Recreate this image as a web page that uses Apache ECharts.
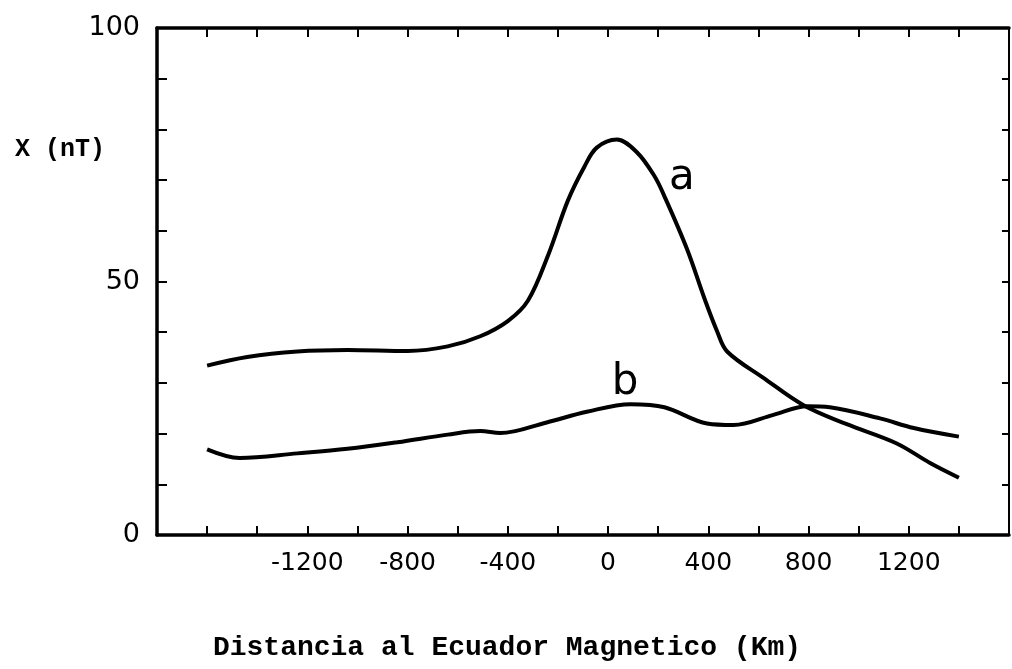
<!DOCTYPE html>
<html>
<head>
<meta charset="utf-8">
<script src="https://cdn.jsdelivr.net/npm/echarts@6/dist/echarts.min.js"></script>
<style>
html,body{margin:0;padding:0;background:#fff;}
#chart{width:1012px;height:669px;}
</style>
</head>
<body>
<div id="chart"></div>
<script>
// Curve a
var xA = [-1600,-1440,-1240,-1040,-800,-640,-510,-400,-320,-240,-160,-95,-45,35,115,185,225,315,385,435,475,620,780,950,1150,1285,1400];
var yA = [33.4,35.1,36.2,36.5,36.3,37.2,39.2,42.2,46.2,55.1,66.0,72.6,76.4,78.0,75.5,70.8,66.8,56.4,46.6,40.2,36.2,31.0,25.6,21.9,18.1,14.2,11.3];
// Curve b
var xB = [-1600,-1470,-1240,-1040,-840,-640,-510,-430,-245,-85,90,225,395,500,660,795,885,1085,1220,1400];
var yB = [16.9,15.2,16.1,17.0,18.3,19.8,20.5,20.1,22.2,24.3,25.8,25.2,22.0,21.7,23.7,25.4,25.2,23.0,21.1,19.4];
// Curve labels
var curveNames = ['a','b'];
var curveLabelX = [295, 68];
var curveLabelY = [70.3, 30.0];
// Tick labels
var xTickLabels = [-1200,-800,-400,0,400,800,1200];
var yTickLabels = [0,50,100];
var xTitle = 'Distancia al Ecuador Magnetico (Km)';
var yTitle = 'X (nT)';

function zip(xs, ys){ return xs.map(function(x,i){ return [x, ys[i]]; }); }

var chart = echarts.init(document.getElementById('chart'));
var axisLineStyle = {color:'#000', width:3.5};
var tickStyle = {color:'#000', width:2};

var option = {
  animation: false,
  backgroundColor: '#fff',
  grid: {left:157, right:1, top:28, bottom:134},
  xAxis: [{
    type:'value', min:-1800, max:1600, interval:200, position:'bottom',
    axisLine:{show:true, onZero:false, lineStyle:axisLineStyle},
    axisTick:{show:true, inside:true, length:9, lineStyle:tickStyle},
    axisLabel:{
      margin:16, fontSize:25, color:'#000', fontFamily:'DejaVu Sans',
      formatter:function(v){ return xTickLabels.indexOf(v) >= 0 ? String(v) : ''; }
    },
    splitLine:{show:false}
  },{
    type:'value', min:-1800, max:1600, interval:200, position:'top',
    axisLine:{show:true, onZero:false, lineStyle:axisLineStyle},
    axisTick:{show:true, inside:true, length:9, lineStyle:tickStyle},
    axisLabel:{show:false},
    splitLine:{show:false}
  }],
  yAxis: [{
    type:'value', min:0, max:100, interval:10, position:'left',
    axisLine:{show:true, onZero:false, lineStyle:axisLineStyle},
    axisTick:{show:true, inside:true, length:10, lineStyle:tickStyle},
    axisLabel:{
      margin:17, fontSize:27, color:'#000', fontFamily:'DejaVu Sans',
      formatter:function(v){ return yTickLabels.indexOf(v) >= 0 ? String(v) : ''; }
    },
    splitLine:{show:false}
  },{
    type:'value', min:0, max:100, interval:10, position:'right',
    axisLine:{show:true, onZero:false, lineStyle:{color:'#000', width:2}},
    axisTick:{show:true, inside:true, length:7, lineStyle:tickStyle},
    axisLabel:{show:false},
    splitLine:{show:false}
  }],
  series: [{
    name:'a', type:'line', xAxisIndex:0, yAxisIndex:0,
    data: zip(xA, yA), smooth:0.35, symbol:'none',
    lineStyle:{color:'#000', width:4}
  },{
    name:'b', type:'line', xAxisIndex:0, yAxisIndex:0,
    data: zip(xB, yB), smooth:0.35, symbol:'none',
    lineStyle:{color:'#000', width:4}
  },{
    type:'scatter', xAxisIndex:0, yAxisIndex:0,
    symbolSize:1, itemStyle:{color:'rgba(0,0,0,0)'},
    data: curveNames.map(function(n,i){ return {name:n, value:[curveLabelX[i], curveLabelY[i]]}; }),
    label:{show:true, position:'inside', formatter:'{b}', fontSize:42, color:'#000',
           textBorderWidth:0, opacity:1, fontFamily:'DejaVu Sans'}
  }],
  graphic: [{
    type:'text', x:15, y:150,
    style:{text:yTitle, font:'bold 25px "Liberation Mono"', fill:'#000', align:'left', verticalAlign:'middle'}
  },{
    type:'text', x:507, y:648,
    style:{text:xTitle, font:'bold 28px "Liberation Mono"', fill:'#000', align:'center', verticalAlign:'middle'}
  }]
};
chart.setOption(option);
</script>
</body>
</html>
